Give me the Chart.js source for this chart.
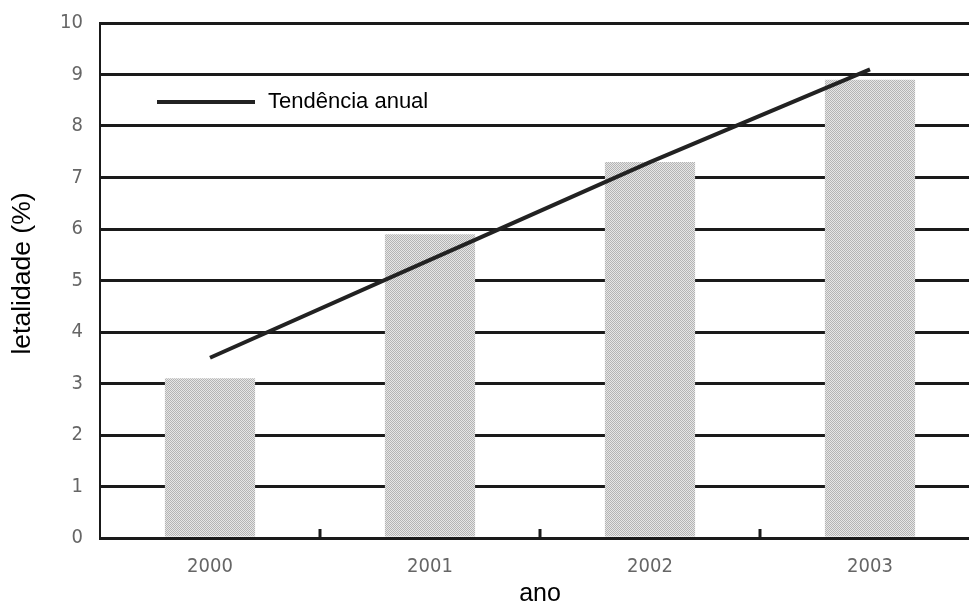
<!DOCTYPE html>
<html>
<head>
<meta charset="utf-8">
<script src="https://cdn.jsdelivr.net/npm/chart.js@4/dist/chart.umd.min.js"></script>
<style>
  html, body { margin: 0; padding: 0; overflow: hidden; background: #fff; }
  #wrap { width: 980px; height: 603px; }
</style>
</head>
<body>
<div id="wrap"><canvas id="c" width="980" height="603"></canvas></div>
<script>
// Case-fatality per year, with the annual trend line
const years = ['2000', '2001', '2002', '2003'];
const letalidade = [3.1, 5.9, 7.3, 8.9];
const tendencia = [3.5, 5.4, 7.3, 9.1];
const yTicks = [0, 1, 2, 3, 4, 5, 6, 7, 8, 9, 10];
const trendLabel = 'Tendência anual';
const yTitle = 'letalidade (%)';

// Fine stippled grey fill for the bars
function stipple() {
  const p = document.createElement('canvas');
  p.width = 2; p.height = 2;
  const g = p.getContext('2d');
  g.fillStyle = '#e6e6e6'; g.fillRect(0, 0, 2, 2);
  g.fillStyle = '#b4b4b4'; g.fillRect(0, 0, 1, 1); g.fillRect(1, 1, 1, 1);
  return g.createPattern(p, 'repeat');
}

const narrow = "'Liberation Sans Narrow', 'Arial Narrow', 'DejaVu Sans Condensed', sans-serif";
const sans = "'Liberation Sans', Arial, sans-serif";

// Short upward tick marks between categories on the x axis
const betweenTicks = {
  id: 'betweenTicks',
  afterDatasetsDraw(chart) {
    const x = chart.scales.x, ctx = chart.ctx, b = chart.chartArea.bottom;
    ctx.save();
    ctx.strokeStyle = '#1a1a1a';
    ctx.lineWidth = 3;
    for (let i = 1; i < years.length; i++) {
      const px = (x.getPixelForTick(i - 1) + x.getPixelForTick(i)) / 2;
      ctx.beginPath();
      ctx.moveTo(px, b);
      ctx.lineTo(px, b - 9);
      ctx.stroke();
    }
    ctx.restore();
  }
};

// Legend entry for the trend line, inside the plot, and the rotated y title
const annotations = {
  id: 'annotations',
  afterDatasetsDraw(chart) {
    const ctx = chart.ctx, a = chart.chartArea;
    const x0 = a.left + 57, y0 = a.top + 79;
    ctx.save();
    ctx.strokeStyle = '#222';
    ctx.lineWidth = 4;
    ctx.beginPath();
    ctx.moveTo(x0, y0);
    ctx.lineTo(x0 + 98, y0);
    ctx.stroke();
    ctx.fillStyle = '#000';
    ctx.font = '22px ' + sans;
    ctx.textBaseline = 'middle';
    ctx.fillText(trendLabel, x0 + 111, y0);

    ctx.translate(23, (a.top + a.bottom) / 2 - 7);
    ctx.rotate(-Math.PI / 2);
    ctx.font = '26.5px ' + sans;
    ctx.textAlign = 'center';
    ctx.fillText(yTitle, 0, 0);
    ctx.restore();
  }
};

new Chart(document.getElementById('c'), {
  data: {
    labels: years,
    datasets: [
      {
        type: 'line',
        label: trendLabel,
        data: tendencia,
        borderColor: '#222',
        borderWidth: 4,
        pointRadius: 0,
        fill: false,
        order: 0
      },
      {
        type: 'bar',
        label: 'letalidade',
        data: letalidade,
        backgroundColor: stipple(),
        borderWidth: 0,
        categoryPercentage: 1,
        barPercentage: 0.41,
        order: 1
      }
    ]
  },
  options: {
    responsive: false,
    animation: false,
    devicePixelRatio: 1,
    layout: { padding: { top: 23, right: 0, bottom: 0, left: 0 } },
    plugins: { legend: { display: false }, tooltip: { enabled: false } },
    scales: {
      x: {
        type: 'category',
        offset: true,
        grid: { display: false },
        border: { display: true, color: '#1a1a1a', width: 3 },
        ticks: { color: '#666', font: { family: narrow, size: 20 }, padding: 9 },
        title: { display: true, text: 'ano', color: '#000', font: { family: sans, size: 25, lineHeight: 1 }, padding: { top: 0, bottom: -4 } },
        afterFit(s) { s.height = 65; s.paddingLeft = 0; s.paddingRight = 0; }
      },
      y: {
        type: 'linear',
        min: 0,
        max: 10,
        afterBuildTicks(s) { s.ticks = yTicks.map(v => ({ value: v })); },
        grid: { color: '#1a1a1a', lineWidth: 3, drawTicks: false },
        border: { display: true, color: '#1a1a1a', width: 2 },
        ticks: { color: '#666', font: { family: narrow, size: 20, lineHeight: 1 }, padding: 17 },
        title: { display: false },
        afterFit(s) { s.width = 100; s.paddingTop = 0; s.paddingBottom = 0; }
      }
    }
  },
  plugins: [betweenTicks, annotations]
});
</script>
</body>
</html>
